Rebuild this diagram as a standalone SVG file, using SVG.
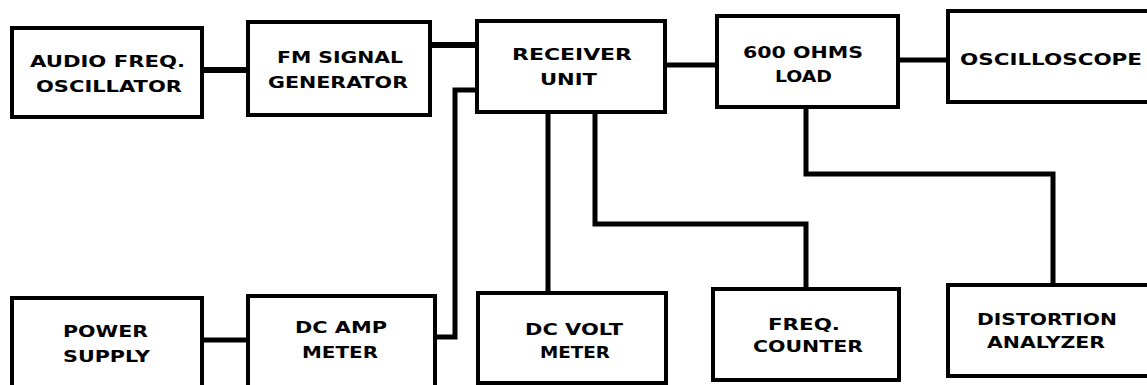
<svg xmlns="http://www.w3.org/2000/svg" width="1147" height="385" viewBox="0 0 1147 385">
<style>
.box{fill:#fff;stroke:#000;stroke-width:4}
.c{fill:none;stroke:#000;stroke-width:5;stroke-linejoin:miter}
text{font-family:"DejaVu Sans","Liberation Sans",Arial,sans-serif;font-weight:bold;font-size:16.5px;fill:#000}
</style>
<rect width="1147" height="385" fill="#fff"/>
<g id="connectors">
<path class="c" d="M202,70 H248" style="stroke-width:6"/>
<path class="c" d="M430,45 H477" style="stroke-width:6"/>
<path class="c" d="M665,65 H717"/>
<path class="c" d="M898,60 H948"/>
<path class="c" d="M202,340 H248"/>
<path class="c" d="M435,337 H455 V90 H477"/>
<path class="c" d="M548,112 V293"/>
<path class="c" d="M595,112 V224 H806 V289"/>
<path class="c" d="M806,107 V174 H1053 V285"/>
</g>
<g id="audio-osc">
<rect class="box" x="12" y="28" width="190" height="89"/>
<text x="30" y="67" textLength="155" lengthAdjust="spacingAndGlyphs">AUDIO FREQ.</text>
<text x="36" y="92" textLength="146" lengthAdjust="spacingAndGlyphs">OSCILLATOR</text>
</g>
<g id="fm-gen">
<rect class="box" x="248" y="22" width="182" height="93"/>
<text x="277" y="63" textLength="126" lengthAdjust="spacingAndGlyphs">FM SIGNAL</text>
<text x="268" y="88" textLength="140" lengthAdjust="spacingAndGlyphs">GENERATOR</text>
</g>
<g id="receiver">
<rect class="box" x="477" y="21" width="188" height="91"/>
<text x="512" y="60" textLength="120" lengthAdjust="spacingAndGlyphs">RECEIVER</text>
<text x="540" y="85" textLength="57" lengthAdjust="spacingAndGlyphs">UNIT</text>
</g>
<g id="load">
<rect class="box" x="717" y="16" width="181" height="91"/>
<text x="743" y="58" textLength="120" lengthAdjust="spacingAndGlyphs">600 OHMS</text>
<text x="775" y="82" textLength="57" lengthAdjust="spacingAndGlyphs">LOAD</text>
</g>
<g id="oscilloscope">
<rect class="box" x="948" y="11" width="220" height="91"/>
<text x="960" y="65" textLength="182" lengthAdjust="spacingAndGlyphs">OSCILLOSCOPE</text>
</g>
<g id="power-supply">
<rect class="box" x="12" y="298" width="190" height="100"/>
<text x="63" y="337" textLength="85" lengthAdjust="spacingAndGlyphs">POWER</text>
<text x="63" y="362" textLength="87" lengthAdjust="spacingAndGlyphs">SUPPLY</text>
</g>
<g id="dc-amp">
<rect class="box" x="248" y="296" width="187" height="100"/>
<text x="295" y="333" textLength="92" lengthAdjust="spacingAndGlyphs">DC AMP</text>
<text x="302" y="358" textLength="76" lengthAdjust="spacingAndGlyphs">METER</text>
</g>
<g id="dc-volt">
<rect class="box" x="478" y="293" width="188" height="90"/>
<text x="525" y="335" textLength="98" lengthAdjust="spacingAndGlyphs">DC VOLT</text>
<text x="540" y="358" textLength="70" lengthAdjust="spacingAndGlyphs">METER</text>
</g>
<g id="freq-counter">
<rect class="box" x="713" y="289" width="186" height="91"/>
<text x="768" y="330" textLength="72" lengthAdjust="spacingAndGlyphs">FREQ.</text>
<text x="753" y="352" textLength="110" lengthAdjust="spacingAndGlyphs">COUNTER</text>
</g>
<g id="distortion">
<rect class="box" x="948" y="285" width="220" height="91"/>
<text x="977" y="325" textLength="140" lengthAdjust="spacingAndGlyphs">DISTORTION</text>
<text x="987" y="348" textLength="118" lengthAdjust="spacingAndGlyphs">ANALYZER</text>
</g>
</svg>
